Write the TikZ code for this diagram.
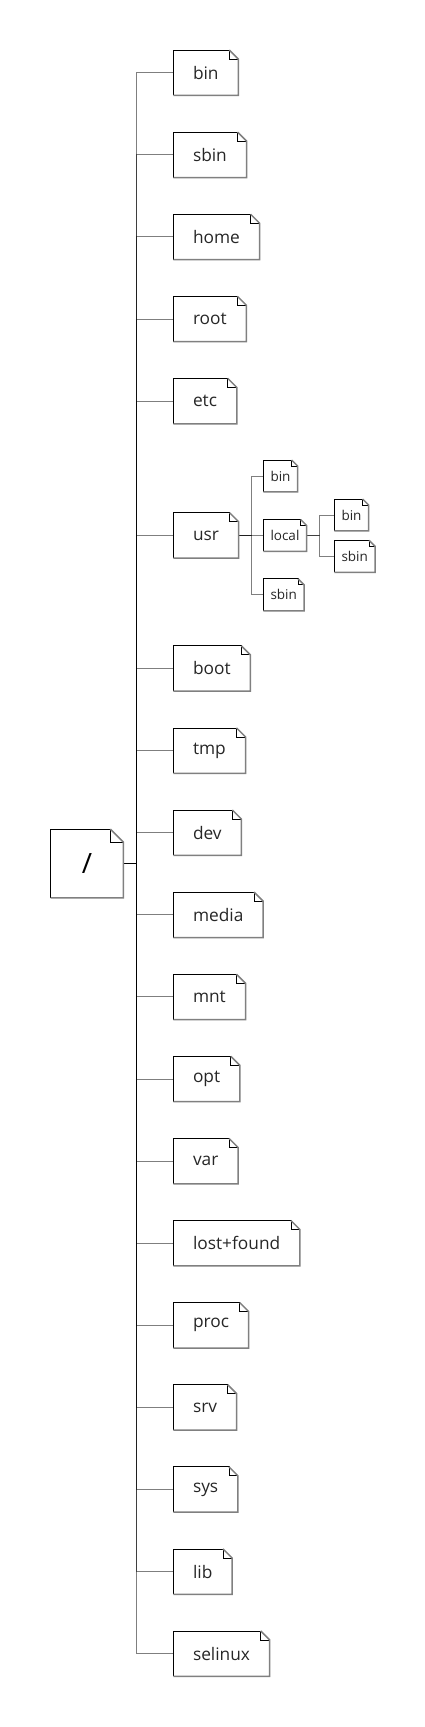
\documentclass[tikz,border=0pt]{standalone}
\usepackage{fontspec}
\setmainfont{Open Sans}

\begin{document}
\begin{tikzpicture}[x=1pt,y=-1pt]
  \tikzstyle{dir}=[anchor=west,minimum height=45pt,inner xsep=19.5pt,inner ysep=0pt,text=black!85,font=\fontsize{17.3}{20}\selectfont]
  \tikzstyle{subdir}=[anchor=west,minimum height=31.5pt,inner xsep=7pt,inner ysep=0pt,text=black!85,font=\fontsize{13.5}{15}\selectfont]
  \tikzstyle{branch}=[draw=black,draw opacity=0.5,line width=1pt]
  \tikzstyle{lit}=[draw=black,line width=0.8pt]
  \tikzstyle{shade}=[draw=black!50,line width=1.5pt]
  \useasboundingbox (0,0) rectangle (424,1727);
  \node[minimum width=72.3pt,minimum height=68.5pt,inner sep=0pt,text=black,font=\fontsize{28}{32}\selectfont] (fsroot) at (87,863.5) {/};
  % top level
  \foreach \n/\t/\y in {bin/bin/72.7,sbin/sbin/154.8,home/home/236.9,root/root/319,etc/etc/401.1,
      usr/usr/535.5,boot/boot/668.5,tmp/tmp/750.6,dev/dev/832.7,media/media/914.8,mnt/mnt/996.9,
      opt/opt/1079,var/var/1161.1,lost/lost+found/1243.2,proc/proc/1325.3,srv/srv/1407.4,
      sys/sys/1489.5,lib/lib/1571.6,selinux/selinux/1653.7}
    \node[dir] (\n) at (173.3,\y) {\t};
  % under usr
  \node[subdir] (usrbin) at (263.3,476) {bin};
  \node[subdir] (local) at (263.3,535.5) {local};
  \node[subdir] (usrsbin) at (263.3,594.8) {sbin};
  \node[subdir] (localbin) at (334.3,515) {bin};
  \node[subdir] (localsbin) at (334.3,556.3) {sbin};
  % connectors
  \foreach \c in {bin,sbin,home,root,etc,usr,boot,tmp,dev,media,mnt,opt,var,lost,proc,srv,sys,lib,selinux}
    \draw[branch] (fsroot.east) -- ++(13,0) |- (\c.west);
  \foreach \c in {usrbin,local,usrsbin}
    \draw[branch] (usr.east) -- ++(13.3,0) |- (\c.west);
  \foreach \c in {localbin,localsbin}
    \draw[branch] (local.east) -- ++(13.3,0) |- (\c.west);
  % note outlines
  \foreach \n/\f in {fsroot/13,bin/9,sbin/9,home/9,root/9,etc/9,usr/9,boot/9,tmp/9,dev/9,media/9,
      mnt/9,opt/9,var/9,lost/9,proc/9,srv/9,sys/9,lib/9,selinux/9,
      usrbin/6,local/6,usrsbin/6,localbin/6,localsbin/6}{
    \draw[lit] (\n.south west) -- (\n.north west) -- ([xshift=-\f pt]\n.north east)
      -- ([xshift=-\f pt,yshift=-\f pt]\n.north east) -- ([yshift=-\f pt]\n.north east);
    \draw[shade] ([xshift=-\f pt]\n.north east) -- ([yshift=-\f pt]\n.north east)
      -- (\n.south east) -- (\n.south west);
  }
\end{tikzpicture}
\end{document}
